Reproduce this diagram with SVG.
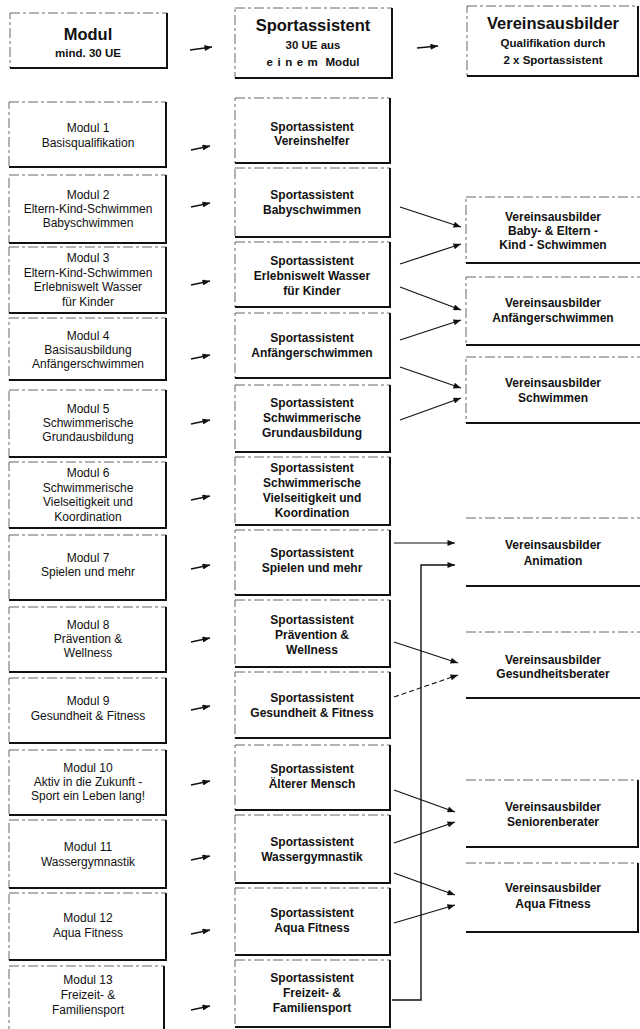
<svg xmlns="http://www.w3.org/2000/svg" width="640" height="1029" viewBox="0 0 640 1029">
<style>
text{font-family:"Liberation Sans",Arial,sans-serif;text-anchor:middle;fill:#111}
.h{font-weight:bold;font-size:16.5px}
.s{font-weight:bold;font-size:11.5px}
.l{font-size:12px}
.m{font-weight:bold;font-size:12px}
.bx{fill:#fff;stroke:#555;stroke-width:0.9;stroke-dasharray:10 3 3 3}
.ed{fill:none;stroke:#111;stroke-width:2}
.tp{fill:none;stroke:#555;stroke-width:0.9;stroke-dasharray:10 3 3 3}
.c{fill:none;stroke:#111;stroke-width:1.2;marker-end:url(#ah)}
.cs{fill:none;stroke:#111;stroke-width:1.3;marker-end:url(#ah)}
.cd{fill:none;stroke:#111;stroke-width:1.1;stroke-dasharray:5 3;marker-end:url(#ah)}
</style>
<defs>
<marker id="ah" viewBox="0 0 10 8" refX="10" refY="4" markerWidth="8" markerHeight="6" orient="auto" markerUnits="userSpaceOnUse"><path d="M0,0 L10,4 L0,8 z" fill="#111"/></marker>
</defs>
<rect width="640" height="1029" fill="#fff"/>

<!-- Header -->
<g id="hdr-modul"><rect class="bx" x="10" y="13" width="157" height="55"/><path class="ed" d="M167 13V68H10"/>
<text class="h" x="88" y="40">Modul</text><text class="s" x="88" y="57">mind. 30 UE</text></g>
<g id="hdr-sport"><rect class="bx" x="235" y="8" width="157" height="70"/><path class="ed" d="M392 8V78H235"/>
<text class="h" x="313" y="31">Sportassistent</text><text class="s" x="313" y="49">30 UE aus</text><text class="s" x="313" y="66"><tspan letter-spacing="4.5">einem</tspan> Modul</text></g>
<g id="hdr-verein"><rect class="bx" x="467" y="6" width="171" height="70"/><path class="ed" d="M638 6V76H467"/>
<text class="h" x="553" y="29">Vereinsausbilder</text><text class="s" x="553" y="47">Qualifikation durch</text><text class="s" x="553" y="64">2 x Sportassistent</text></g>

<!-- Left column: Module -->
<g id="m1"><rect class="bx" x="9" y="102" width="157" height="65"/><path class="ed" d="M166 102V167H9"/>
<text class="l" x="88" y="132">Modul 1</text><text class="l" x="88" y="147">Basisqualifikation</text></g>
<g id="m2"><rect class="bx" x="9" y="175" width="157" height="68"/><path class="ed" d="M166 175V243H9"/>
<text class="l" x="88" y="199">Modul 2</text><text class="l" x="88" y="213">Eltern-Kind-Schwimmen</text><text class="l" x="88" y="227">Babyschwimmen</text></g>
<g id="m3"><rect class="bx" x="9" y="247" width="157" height="66"/><path class="ed" d="M166 247V313H9"/>
<text class="l" x="88" y="262">Modul 3</text><text class="l" x="88" y="277">Eltern-Kind-Schwimmen</text><text class="l" x="88" y="291">Erlebniswelt Wasser</text><text class="l" x="88" y="306">für Kinder</text></g>
<g id="m4"><rect class="bx" x="9" y="318" width="157" height="62"/><path class="ed" d="M166 318V380H9"/>
<text class="l" x="88" y="340">Modul 4</text><text class="l" x="88" y="354">Basisausbildung</text><text class="l" x="88" y="368">Anfängerschwimmen</text></g>
<g id="m5"><rect class="bx" x="9" y="390" width="157" height="67"/><path class="ed" d="M166 390V457H9"/>
<text class="l" x="88" y="413">Modul 5</text><text class="l" x="88" y="427">Schwimmerische</text><text class="l" x="88" y="441">Grundausbildung</text></g>
<g id="m6"><rect class="bx" x="9" y="462" width="157" height="66"/><path class="ed" d="M166 462V528H9"/>
<text class="l" x="88" y="477">Modul 6</text><text class="l" x="88" y="492">Schwimmerische</text><text class="l" x="88" y="506">Vielseitigkeit und</text><text class="l" x="88" y="521">Koordination</text></g>
<g id="m7"><rect class="bx" x="9" y="535" width="157" height="65"/><path class="ed" d="M166 535V600H9"/>
<text class="l" x="88" y="562">Modul 7</text><text class="l" x="88" y="576">Spielen und mehr</text></g>
<g id="m8"><rect class="bx" x="9" y="607" width="157" height="65"/><path class="ed" d="M166 607V672H9"/>
<text class="l" x="88" y="629">Modul 8</text><text class="l" x="88" y="643">Prävention &amp;</text><text class="l" x="88" y="657">Wellness</text></g>
<g id="m9"><rect class="bx" x="9" y="678" width="157" height="65"/><path class="ed" d="M166 678V743H9"/>
<text class="l" x="88" y="705">Modul 9</text><text class="l" x="88" y="720">Gesundheit &amp; Fitness</text></g>
<g id="m10"><rect class="bx" x="9" y="750" width="157" height="65"/><path class="ed" d="M166 750V815H9"/>
<text class="l" x="88" y="772">Modul 10</text><text class="l" x="88" y="786">Aktiv in die Zukunft -</text><text class="l" x="88" y="800">Sport ein Leben lang!</text></g>
<g id="m11"><rect class="bx" x="9" y="820" width="157" height="68"/><path class="ed" d="M166 820V888H9"/>
<text class="l" x="88" y="851">Modul 11</text><text class="l" x="88" y="866">Wassergymnastik</text></g>
<g id="m12"><rect class="bx" x="9" y="893" width="157" height="67"/><path class="ed" d="M166 893V960H9"/>
<text class="l" x="88" y="922">Modul 12</text><text class="l" x="88" y="937">Aqua Fitness</text></g>
<g id="m13"><rect class="bx" x="9" y="966" width="155" height="70"/><path class="ed" d="M164 966V1029"/>
<text class="l" x="88" y="984">Modul 13</text><text class="l" x="88" y="999">Freizeit- &amp;</text><text class="l" x="88" y="1014">Familiensport</text></g>

<!-- Middle column: Sportassistent -->
<g id="sa1"><rect class="bx" x="235" y="98" width="155" height="65"/><path class="ed" d="M390 98V163H235"/>
<text class="m" x="312" y="131">Sportassistent</text><text class="m" x="312" y="145">Vereinshelfer</text></g>
<g id="sa2"><rect class="bx" x="235" y="168" width="155" height="69"/><path class="ed" d="M390 168V237H235"/>
<text class="m" x="312" y="199">Sportassistent</text><text class="m" x="312" y="214">Babyschwimmen</text></g>
<g id="sa3"><rect class="bx" x="235" y="242" width="155" height="65"/><path class="ed" d="M390 242V307H235"/>
<text class="m" x="312" y="265">Sportassistent</text><text class="m" x="312" y="280">Erlebniswelt Wasser</text><text class="m" x="312" y="295">für Kinder</text></g>
<g id="sa4"><rect class="bx" x="235" y="313" width="155" height="65"/><path class="ed" d="M390 313V378H235"/>
<text class="m" x="312" y="342">Sportassistent</text><text class="m" x="312" y="357">Anfängerschwimmen</text></g>
<g id="sa5"><rect class="bx" x="235" y="385" width="155" height="67"/><path class="ed" d="M390 385V452H235"/>
<text class="m" x="312" y="407">Sportassistent</text><text class="m" x="312" y="422">Schwimmerische</text><text class="m" x="312" y="437">Grundausbildung</text></g>
<g id="sa6"><rect class="bx" x="235" y="457" width="155" height="68"/><path class="ed" d="M390 457V525H235"/>
<text class="m" x="312" y="472">Sportassistent</text><text class="m" x="312" y="487">Schwimmerische</text><text class="m" x="312" y="502">Vielseitigkeit und</text><text class="m" x="312" y="517">Koordination</text></g>
<g id="sa7"><rect class="bx" x="235" y="530" width="155" height="65"/><path class="ed" d="M390 530V595H235"/>
<text class="m" x="312" y="557">Sportassistent</text><text class="m" x="312" y="572">Spielen und mehr</text></g>
<g id="sa8"><rect class="bx" x="235" y="600" width="155" height="67"/><path class="ed" d="M390 600V667H235"/>
<text class="m" x="312" y="624">Sportassistent</text><text class="m" x="312" y="639">Prävention &amp;</text><text class="m" x="312" y="654">Wellness</text></g>
<g id="sa9"><rect class="bx" x="235" y="672" width="155" height="66"/><path class="ed" d="M390 672V738H235"/>
<text class="m" x="312" y="702">Sportassistent</text><text class="m" x="312" y="717">Gesundheit &amp; Fitness</text></g>
<g id="sa10"><rect class="bx" x="235" y="745" width="155" height="65"/><path class="ed" d="M390 745V810H235"/>
<text class="m" x="312" y="773">Sportassistent</text><text class="m" x="312" y="788">Älterer Mensch</text></g>
<g id="sa11"><rect class="bx" x="235" y="815" width="155" height="68"/><path class="ed" d="M390 815V883H235"/>
<text class="m" x="312" y="846">Sportassistent</text><text class="m" x="312" y="861">Wassergymnastik</text></g>
<g id="sa12"><rect class="bx" x="235" y="888" width="155" height="67"/><path class="ed" d="M390 888V955H235"/>
<text class="m" x="312" y="917">Sportassistent</text><text class="m" x="312" y="932">Aqua Fitness</text></g>
<g id="sa13"><rect class="bx" x="235" y="960" width="155" height="67"/><path class="ed" d="M390 960V1027H235"/>
<text class="m" x="312" y="982">Sportassistent</text><text class="m" x="312" y="997">Freizeit- &amp;</text><text class="m" x="312" y="1012">Familiensport</text></g>

<!-- Right column: Vereinsausbilder -->
<g id="va1"><rect class="bx" x="466" y="197" width="190" height="66"/><path class="ed" d="M466 263H640"/>
<text class="m" x="553" y="221">Vereinsausbilder</text><text class="m" x="553" y="235">Baby- &amp; Eltern -</text><text class="m" x="553" y="249">Kind - Schwimmen</text></g>
<g id="va2"><rect class="bx" x="466" y="277" width="190" height="68"/><path class="ed" d="M466 345H640"/>
<text class="m" x="553" y="307">Vereinsausbilder</text><text class="m" x="553" y="322">Anfängerschwimmen</text></g>
<g id="va3"><rect class="bx" x="466" y="357" width="190" height="66"/><path class="ed" d="M466 423H640"/>
<text class="m" x="553" y="387">Vereinsausbilder</text><text class="m" x="553" y="402">Schwimmen</text></g>
<g id="va4"><path class="tp" d="M466 518H640"/><path class="ed" d="M466 586H640"/>
<text class="m" x="553" y="549">Vereinsausbilder</text><text class="m" x="553" y="565">Animation</text></g>
<g id="va5"><path class="tp" d="M466 632H640"/><path class="ed" d="M466 698H640"/>
<text class="m" x="553" y="664">Vereinsausbilder</text><text class="m" x="553" y="678">Gesundheitsberater</text></g>
<g id="va6"><path class="tp" d="M466 780H638"/><path class="ed" d="M638 780V847H466"/>
<text class="m" x="553" y="811">Vereinsausbilder</text><text class="m" x="553" y="826">Seniorenberater</text></g>
<g id="va7"><path class="tp" d="M466 863H638"/><path class="ed" d="M638 863V932H466"/>
<text class="m" x="553" y="892">Vereinsausbilder</text><text class="m" x="553" y="908">Aqua Fitness</text></g>

<!-- Connectors -->
<g id="connectors">
<path class="cs" d="M190 50L212 47"/>
<path class="cs" d="M417 48L438 46"/>
<path class="cs" d="M191 150L210 146"/>
<path class="cs" d="M191 207L210 203"/>
<path class="cs" d="M191 285L210 281"/>
<path class="cs" d="M191 359L210 355"/>
<path class="cs" d="M191 424L210 420"/>
<path class="cs" d="M191 500L210 496"/>
<path class="cs" d="M191 569L210 565"/>
<path class="cs" d="M191 642L210 638"/>
<path class="cs" d="M191 710L210 706"/>
<path class="cs" d="M191 785L210 781"/>
<path class="cs" d="M191 860L210 856"/>
<path class="cs" d="M191 934L210 930"/>
<path class="cs" d="M191 1010L210 1006"/>
<path class="c" d="M400 207L461 227"/>
<path class="c" d="M400 264L461 244"/>
<path class="c" d="M400 287L461 310"/>
<path class="c" d="M400 340L461 320"/>
<path class="c" d="M400 367L461 388"/>
<path class="c" d="M400 420L461 398"/>
<path class="c" d="M394 543H455"/>
<path class="c" d="M392 1000H421V565H455" style="stroke-width:1.4"/>
<path class="c" d="M394 642L458 663"/>
<path class="cd" d="M394 697L458 675"/>
<path class="c" d="M394 790L455 812"/>
<path class="c" d="M394 843L455 822"/>
<path class="c" d="M394 873L455 895"/>
<path class="c" d="M394 923L455 905"/>
</g>
</svg>
